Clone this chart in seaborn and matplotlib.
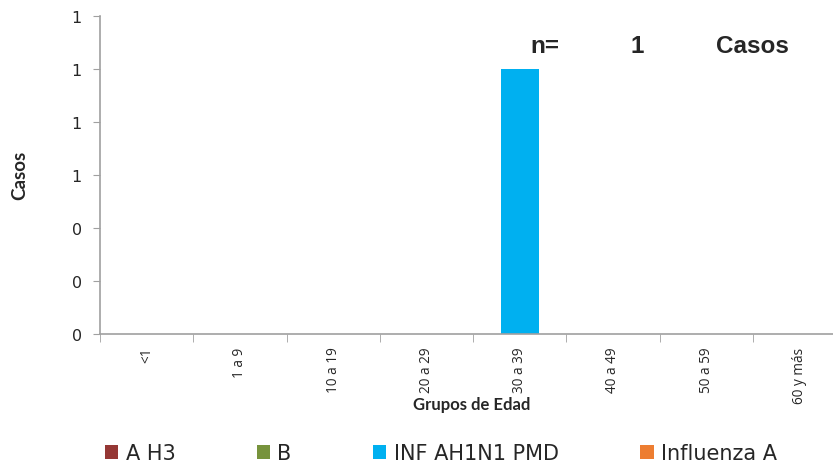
import matplotlib
matplotlib.use("Agg")
import matplotlib.pyplot as plt
import seaborn as sns
import numpy as np
from matplotlib.ticker import FuncFormatter, FixedLocator
from matplotlib.patches import Patch

grupos = ["<1", "1 a 9", "10 a 19", "20 a 29", "30 a 39", "40 a 49", "50 a 59", "60 y más"]
a_h3 = [0, 0, 0, 0, 0, 0, 0, 0]
b = [0, 0, 0, 0, 0, 0, 0, 0]
inf_ah1n1 = [0, 0, 0, 0, 1, 0, 0, 0]
influenza_a = [0, 0, 0, 0, 0, 0, 0, 0]
series_names = ["A H3", "B", "INF AH1N1 PMD", "Influenza A"]
series_vals = [a_h3, b, inf_ah1n1, influenza_a]
colors = ["#953735", "#77933C", "#00B0F0", "#ED7D31"]
total_casos = 1

sns.set_style("white")
plt.rcParams["font.family"] = ["DejaVu Sans"]

fig = plt.figure(figsize=(8.33, 4.64), dpi=100)
ax = fig.add_axes([100/833, 1-335/464, 1-100/833, (335-17)/464])

cum = np.cumsum(np.array(series_vals), axis=0)
for i in reversed(range(len(series_names))):
    sns.barplot(x=grupos, y=cum[i], color=colors[i], width=0.41, ax=ax,
                saturation=1, linewidth=0, order=grupos)

ax.yaxis.set_major_locator(FixedLocator([0, 0.2, 0.4, 0.6, 0.8, 1.0, 1.2]))
ax.yaxis.set_major_formatter(FuncFormatter(lambda v, p: f"{v:.0f}"))
ax.tick_params(axis="y", length=5, color="#A0A0A0", labelsize=11.5, pad=8, left=True)
ax.set_xticks(range(len(grupos)))
ax.set_xticklabels(grupos, rotation=90, fontsize=9.8, family="Open Sans")
ax.tick_params(axis="x", length=0, pad=9)
ax.set_xticks(np.arange(-0.5, 7.0, 1), minor=True)
ax.tick_params(axis="x", which="minor", length=6, color="#A0A0A0", bottom=True)

for s in ["top", "right"]:
    ax.spines[s].set_visible(False)
for s in ["left", "bottom"]:
    ax.spines[s].set_color("#A0A0A0")
    ax.spines[s].set_linewidth(1.2)

ax.set_ylabel("Casos", fontsize=13.5, fontweight="bold", family="Lato")
ax.yaxis.set_label_coords(-(100-28)/733, (335-175)/318)
ax.set_xlabel("Grupos de Edad", fontsize=12, fontweight="bold", family="Lato")
ax.xaxis.set_label_coords((472-100)/733, -(397-335)/318)

for txt, xp in [("n=", 545), ("1", 637), ("Casos", 752)]:
    fig.text(xp/833, 1-47/464, txt, fontsize=17.5, fontweight="bold",
             family=["Liberation Sans", "DejaVu Sans"], ha="center", va="center")

handles = [Patch(facecolor=c, edgecolor="none") for c in colors]
fig.legend(handles, series_names, loc="center left", bbox_to_anchor=(86/833, 1-454/464),
           ncol=4, frameon=False, prop={"family": "DejaVu Sans", "size": 15},
           handlelength=0.65, handleheight=0.65, handletextpad=0.35, columnspacing=3.9)

ax.set_ylim(0, 1.2)
ax.set_xlim(-0.5, 7.36)
fig.savefig("out.png", dpi=100)
